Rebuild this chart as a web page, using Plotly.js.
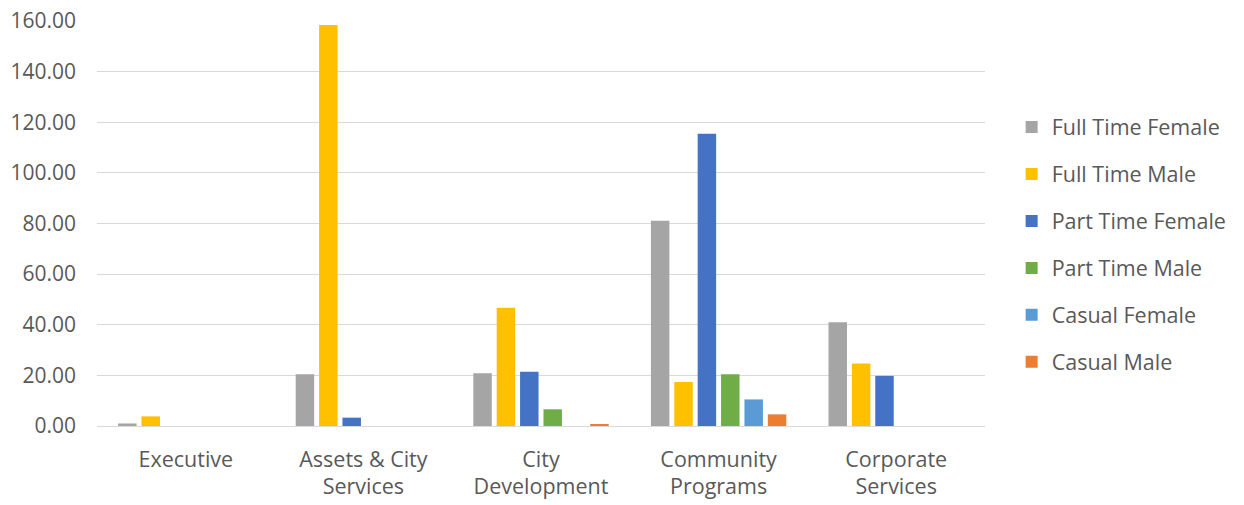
<!DOCTYPE html>
<html><head><meta charset="utf-8">
<script src="https://cdn.plot.ly/plotly-3.0.1.min.js"></script>
<style>body{margin:0;background:#fff}</style>
</head><body>
<div id="chart" style="width:1244px;height:505px"></div>
<script>
const categories = ["Executive", "Assets & City<br>Services", "City<br>Development", "Community<br>Programs", "Corporate<br>Services"];
const seriesNames = ["Full Time Female", "Full Time Male", "Part Time Female", "Part Time Male", "Casual Female", "Casual Male"];
const fullTimeFemale = [1.0, 20.4, 20.8, 81.1, 41.0];
const fullTimeMale = [3.8, 158.4, 46.7, 17.4, 24.7];
const partTimeFemale = [0, 3.3, 21.4, 115.5, 19.8];
const partTimeMale = [0, 0, 6.6, 20.4, 0];
const casualFemale = [0, 0, 0, 10.5, 0];
const casualMale = [0, 0, 0.7, 4.6, 0];
const colors = ["#A5A5A5", "#FFC000", "#4472C4", "#70AD47", "#5B9BD5", "#ED7D31"];
const allSeries = [fullTimeFemale, fullTimeMale, partTimeFemale, partTimeMale, casualFemale, casualMale];

const traces = allSeries.map((vals, i) => ({
  type: "bar",
  name: seriesNames[i],
  x: categories,
  y: vals,
  legendgroup: "g" + i,
  marker: {color: colors[i]},
  hoverinfo: "x+y+name"
}));

const layout = {
  width: 1244, height: 505,
  margin: {l: 97, r: 257, t: 21, b: 79},
  paper_bgcolor: "#fff", plot_bgcolor: "#fff",
  font: {family: "Open Sans, Noto Sans, sans-serif", color: "#595959", size: 21},
  barmode: "group",
  bargap: 0.21,
  bargroupgap: 0.21,
  xaxis: {
    showgrid: false, showline: false, zeroline: false,
    tickfont: {size: 21.5, color: "#595959"},
    ticks: "", automargin: false, ticklabelstandoff: 18
  },
  yaxis: {
    range: [0, 160], dtick: 20, tickformat: ".2f",
    showgrid: true, gridcolor: "#D9D9D9", gridwidth: 1,
    zeroline: true, zerolinecolor: "#D9D9D9", zerolinewidth: 1,
    showline: false, ticks: "", ticklen: 0,
    tickfont: {size: 21, color: "#595959"},
    automargin: false, ticklabelstandoff: 20
  },
  legend: {
    x: 1.03, xanchor: "left", y: 0.448, yanchor: "middle",
    font: {size: 21.5, color: "#595959"},
    tracegroupgap: 16,
    itemwidth: 30,
    bgcolor: "rgba(0,0,0,0)"
  },
  showlegend: true
};

Plotly.newPlot("chart", traces, layout, {displayModeBar: false, staticPlot: false});
</script>
</body></html>
